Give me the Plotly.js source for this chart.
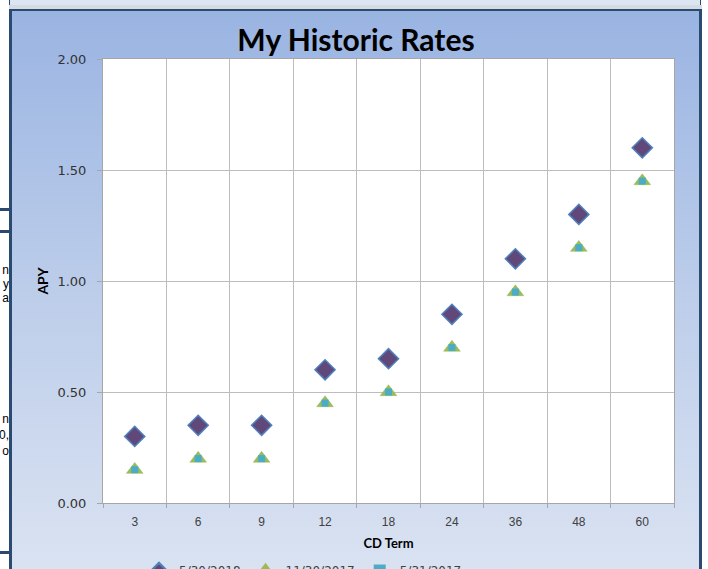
<!DOCTYPE html>
<html>
<head>
<meta charset="utf-8">
<script src="https://cdn.plot.ly/plotly-3.0.1.min.js"></script>
<style>
  html, body { margin:0; padding:0; }
  body { width:708px; height:569px; overflow:hidden; position:relative; background:#ffffff; }
  #topbox { position:absolute; left:9px; top:-4px; width:690px; height:8px; background:#DCE6F2; border:1.5px solid #2C4A70; }
  #gap { position:absolute; left:9px; top:5px; width:693px; height:4px; background:#D6DBE2; }
  #frame { position:absolute; left:9px; top:9px; width:687px; height:580px;
           border-left:3px solid #2B4A72; border-right:3px solid #2B4A72; border-top:2px solid #2B4A72;
           background:linear-gradient(to bottom, #9AB4E2 0%, #BCCDEA 48%, #DCE4F2 100%); }
  #chart { position:absolute; left:0; top:0; width:708px; height:569px; }
  .hl { position:absolute; left:0; width:9px; height:3px; background:#2B4A72; }
  .frag { position:absolute; left:0; width:9px; overflow:hidden; font-family:"Liberation Sans", Arial, sans-serif; font-size:12px; color:#000; }
  .frag div { display:flex; justify-content:flex-end; white-space:nowrap; width:9px; }
</style>
</head>
<body>
<div id="topbox"></div>
<div id="gap"></div>
<div id="frame"></div>
<div class="hl" style="top:208px"></div>
<div class="hl" style="top:230px"></div>
<div class="hl" style="top:551px"></div>
<div class="frag" style="top:263px; line-height:14px"><div><span>n</span></div><div><span>y</span></div><div><span>a</span></div></div>
<div class="frag" style="top:411px; line-height:16px"><div><span>n</span></div><div><span>0,</span></div><div><span>o</span></div></div>
<div id="chart"></div>
<script>
// Data
const cdTerms = ['3', '6', '9', '12', '18', '24', '36', '48', '60'];
const apy_2018_05_30 = [0.30, 0.35, 0.35, 0.60, 0.65, 0.85, 1.10, 1.30, 1.60];
const apy_2017_11_30 = [0.15, 0.20, 0.20, 0.45, 0.50, 0.70, 0.95, 1.15, 1.45];
const apy_2017_05_31 = [0.15, 0.20, 0.20, 0.45, 0.50, 0.70, 0.95, 1.15, 1.45];
const seriesNames = ['5/30/2018', '11/30/2017', '5/31/2017'];

const traces = [
  {
    x: cdTerms, y: apy_2018_05_30, name: seriesNames[0], type: 'scatter', mode: 'markers',
    marker: { symbol: 'diamond', size: 15.5, color: '#60497A', line: { color: '#4F81BD', width: 1.5 } }
  },
  {
    x: cdTerms, y: apy_2017_11_30, name: seriesNames[1], type: 'scatter', mode: 'markers',
    marker: { symbol: 'triangle-up', size: 14.5, color: '#9BBB59', line: { color: '#9BBB59', width: 0.5 } }
  },
  {
    x: cdTerms, y: apy_2017_05_31, name: seriesNames[2], type: 'scatter', mode: 'markers',
    marker: { symbol: 'square', size: 7, color: '#4BACC6', line: { width: 0 } }
  }
];

const layout = {
  width: 708, height: 569,
  margin: { l: 103, r: 34, t: 59, b: 66, pad: 0, autoexpand: false },
  paper_bgcolor: 'rgba(0,0,0,0)',
  plot_bgcolor: '#FFFFFF',
  title: {
    text: 'My Historic Rates',
    font: { family: 'Lato, "Open Sans", sans-serif', size: 30, color: '#000000', weight: 'bold' },
    xref: 'container', x: 356 / 708, xanchor: 'center',
    yref: 'container', y: 1 - 40 / 569, yanchor: 'middle'
  },
  xaxis: {
    type: 'category',
    range: [-0.5, cdTerms.length - 0.5],
    automargin: false,
    tickson: 'boundaries',
    showgrid: true, gridcolor: '#BDBDBD', gridwidth: 1,
    showline: true, linecolor: '#A6A6A6', linewidth: 1, mirror: true,
    ticks: 'outside', ticklen: 4, tickcolor: '#A6A6A6',
    tickfont: { family: '"Liberation Sans", Arial, sans-serif', size: 12, color: '#404040' },
    ticklabelstandoff: 8,
    title: { text: 'CD Term', standoff: 10,
      font: { family: 'Lato, "Liberation Sans", sans-serif', size: 13, color: '#000000', weight: 'bold' } },
    fixedrange: true, zeroline: false
  },
  yaxis: {
    automargin: false,
    range: [0, 2], dtick: 0.5, tick0: 0, tickformat: '.2f',
    showgrid: true, gridcolor: '#BDBDBD', gridwidth: 1,
    showline: true, linecolor: '#A6A6A6', linewidth: 1, mirror: true,
    ticks: 'outside', ticklen: 5, tickcolor: '#A6A6A6',
    tickfont: { family: '"DejaVu Sans", sans-serif', size: 13, color: '#333333' },
    ticklabelstandoff: 8,
    title: { text: 'APY', standoff: 5,
      font: { family: 'Lato, "Liberation Sans", sans-serif', size: 14, color: '#000000', weight: 'bold' } },
    zeroline: false, fixedrange: true
  },
  showlegend: true,
  legend: {
    orientation: 'h',
    xref: 'container', x: 303 / 708, xanchor: 'center',
    yref: 'container', y: 1 - 556 / 569, yanchor: 'top',
    bgcolor: 'rgba(0,0,0,0)',
    font: { family: '"DejaVu Sans", sans-serif', size: 12, color: '#404040' },
    itemsizing: 'constant', itemwidth: 30
  }
};

Plotly.newPlot('chart', traces, layout, { displayModeBar: false, staticPlot: true });
</script>
</body>
</html>
